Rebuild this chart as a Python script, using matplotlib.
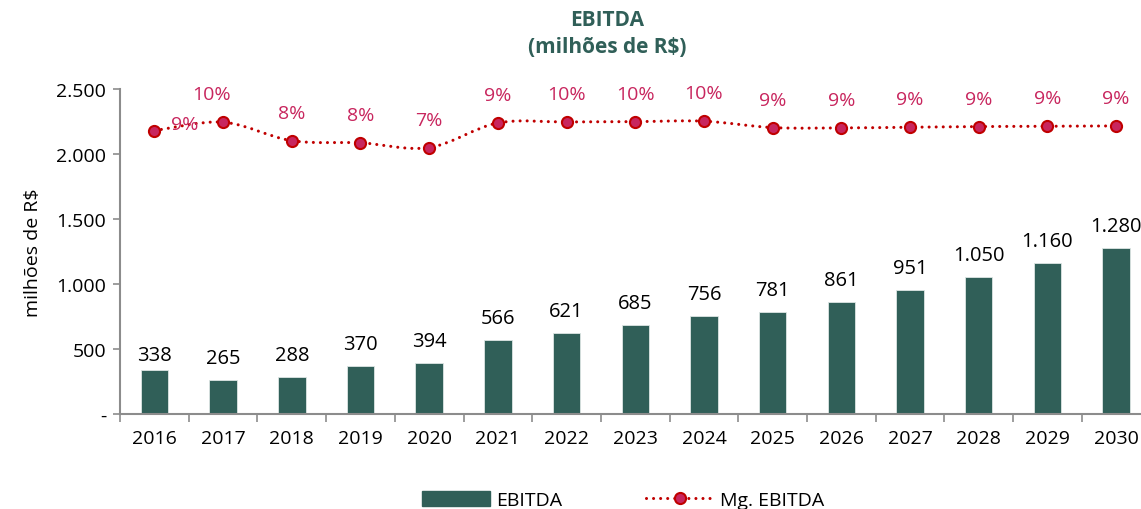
import numpy as np
import matplotlib
matplotlib.use('Agg')
import matplotlib.pyplot as plt
from matplotlib.path import Path
from matplotlib.patches import PathPatch, Patch
from matplotlib.lines import Line2D

plt.rcParams['font.family'] = ['Open Sans', 'DejaVu Sans']

years = ['2016', '2017', '2018', '2019', '2020', '2021', '2022', '2023',
         '2024', '2025', '2026', '2027', '2028', '2029', '2030']
ebitda = [338, 265, 288, 370, 394, 566, 621, 685, 756, 781, 861, 951, 1050, 1160, 1280]
margin = [8.76, 9.53, 7.85, 7.65, 7.22, 9.46, 9.55, 9.58, 9.62,
          9.04, 9.01, 9.07, 9.13, 9.16, 9.19]

green = '#305F58'
red = '#C00000'
pink = '#C8265E'
gray = '#8C8C8C'

fig = plt.figure(figsize=(11.41, 5.10), dpi=100)
ax = fig.add_axes([0.1052, 0.1863, 0.9031, 0.6373])
x = np.arange(len(years))

ax.bar(x, ebitda, width=0.4, color=green, edgecolor='#DDE6E4', linewidth=0.6, zorder=2)
ax.set_xlim(-0.5, len(years) - 0.5)
ax.set_ylim(0, 2500)
ax.set_yticks([0, 500, 1000, 1500, 2000, 2500])
ax.set_yticklabels(['-', '500', '1.000', '1.500', '2.000', '2.500'], fontsize=14)
ax.set_xticks(x)
ax.set_xticklabels(years, fontsize=14)
ax.set_xticks(np.arange(-0.5, len(years), 1), minor=True)
ax.tick_params(axis='x', which='major', length=0, pad=11)
ax.tick_params(axis='x', which='minor', length=6, color=gray, width=1.2)
ax.tick_params(axis='y', length=5, color=gray, width=1.2, pad=5)
for s in ['top', 'right']:
    ax.spines[s].set_visible(False)
for s in ['left', 'bottom']:
    ax.spines[s].set_color(gray)
    ax.spines[s].set_linewidth(1.5)
ax.set_ylabel('milhões de R$', fontsize=14, labelpad=10)

# bar labels
for i, v in enumerate(ebitda):
    off = 15 if i == 0 else 22
    ax.annotate(f'{v:,}'.replace(',', '.'), (i, v), xytext=(0, off), textcoords='offset pixels',
                ha='center', va='center', fontsize=14.5, annotation_clip=False)

# margin line on hidden twin axis, smoothed like Excel
ax2 = ax.twinx()
ax2.set_ylim(-17.0, 12.55)
ax2.axis('off')
pts = np.column_stack([x, margin])
verts = [pts[0]]
codes = [Path.MOVETO]
for i in range(len(pts) - 1):
    p0 = pts[max(i - 1, 0)]
    p1 = pts[i]
    p2 = pts[i + 1]
    p3 = pts[min(i + 2, len(pts) - 1)]
    c1 = p1 + (p2 - p0) / 6
    c2 = p2 - (p3 - p1) / 6
    verts += [c1, c2, p2]
    codes += [Path.CURVE4] * 3
dots = (0, (0.01, 2.3))
ax2.add_patch(PathPatch(Path(verts, codes), fill=False, edgecolor=red, linewidth=2.2,
                        linestyle=dots, capstyle='round', zorder=3))
ax2.plot(x, margin, linestyle='none', marker='o', markersize=8, markerfacecolor=pink,
         markeredgecolor=red, markeredgewidth=1.5, zorder=4)
for i, m in enumerate(margin):
    dx, dy = 0, 28
    if i == 0:
        dx, dy = 30, 7
    elif i == 1:
        dx = -12
    ax2.annotate(f'{m:.0f}%', (i, m), xytext=(dx, dy), textcoords='offset pixels',
                 ha='center', va='center', fontsize=14, color=pink, annotation_clip=False)

fig.text(0.532, 0.933, 'EBITDA\n(milhões de R$)', ha='center', va='center', fontsize=15,
         fontweight='bold', color=green, linespacing=1.35)

handles = [Patch(facecolor=green, edgecolor=green),
           Line2D([0], [0], color=red, linewidth=2.2, linestyle=(0, (0.01, 2.3)),
                  dash_capstyle='round', marker='o', markersize=8, markerfacecolor=pink,
                  markeredgecolor=red, markeredgewidth=1.5)]
fig.legend(handles, ['EBITDA', 'Mg. EBITDA'], loc='center', bbox_to_anchor=(0.546, 0.018),
           ncol=2, frameon=False, fontsize=14, handlelength=3.5, handleheight=0.8,
           handletextpad=0.3, columnspacing=4.3)

fig.savefig('out.png', dpi=100)
